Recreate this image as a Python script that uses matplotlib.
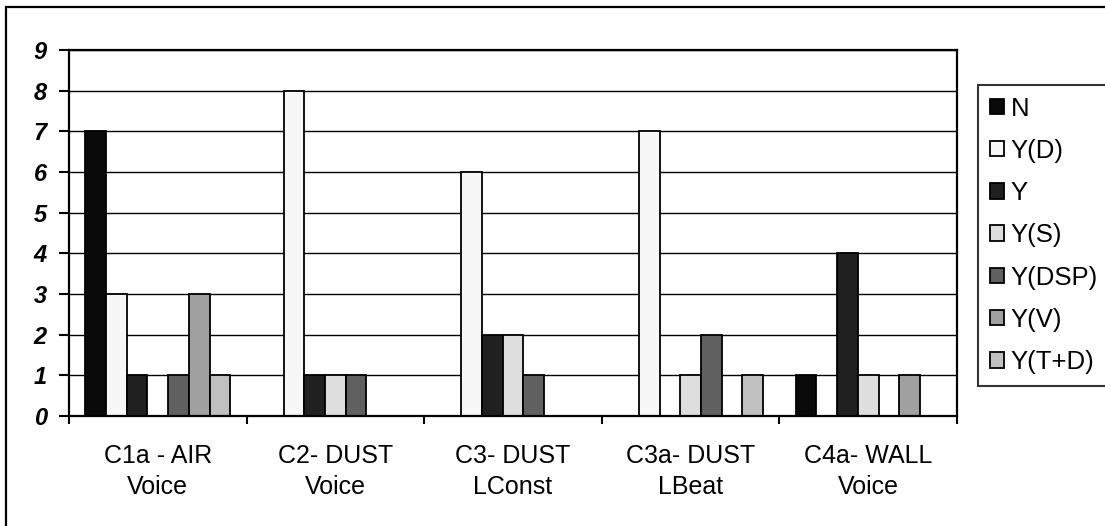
import numpy as np
import matplotlib
matplotlib.use("Agg")
import matplotlib.pyplot as plt
from matplotlib.patches import Rectangle

plt.rcParams['font.family'] = ['Liberation Sans', 'DejaVu Sans']

categories = ["C1a - AIR\nVoice", "C2- DUST\nVoice", "C3- DUST\nLConst",
              "C3a- DUST\nLBeat", "C4a- WALL\nVoice"]
series = ["N", "Y(D)", "Y", "Y(S)", "Y(DSP)", "Y(V)", "Y(T+D)"]
v_N = [7, 0, 0, 0, 1]
v_YD = [3, 8, 6, 7, 0]
v_Y = [1, 1, 2, 0, 4]
v_YS = [0, 1, 2, 1, 1]
v_YDSP = [1, 1, 1, 2, 0]
v_YV = [3, 0, 0, 0, 1]
v_YTD = [1, 0, 0, 1, 0]
values = [v_N, v_YD, v_Y, v_YS, v_YDSP, v_YV, v_YTD]
colors = ['#0a0a0a', '#f7f7f7', '#202020', '#dedede', '#606060', '#a0a0a0', '#c0c0c0']

W, H = 1105, 526
fig = plt.figure(figsize=(W / 100, H / 100), dpi=100)
ax = fig.add_axes([69 / W, 1 - 416 / H, (957 - 69) / W, (416 - 50) / H])

x = np.arange(len(categories))
bw = 0.1166
n = len(series)
for i, (name, vals, c) in enumerate(zip(series, values, colors)):
    off = (i - (n - 1) / 2) * bw
    ax.bar(x + off, vals, width=bw, color=c, edgecolor='black', linewidth=1.3,
           label=name, zorder=3)

ax.set_xlim(-0.5, len(categories) - 0.5)
ax.set_ylim(0, 9)
ax.set_yticks(range(10))
ax.yaxis.grid(True, color='black', linewidth=1.0, zorder=0)
ax.set_axisbelow(True)
for s in ax.spines.values():
    s.set_linewidth(1.6)
    s.set_zorder(4)

ax.tick_params(axis='y', direction='out', length=7, width=1.5, pad=9)
for lab in ax.get_yticklabels():
    lab.set_fontweight('bold')
    lab.set_fontstyle('italic')
    lab.set_fontsize(17)

ax.set_xticks(np.arange(len(categories) + 1) - 0.5)
ax.set_xticklabels([])
ax.tick_params(axis='x', which='major', direction='out', length=6, width=1.5)
ax.set_xticks(x, minor=True)
ax.set_xticklabels(categories, minor=True, fontsize=18, linespacing=1.38)
ax.tick_params(axis='x', which='minor', length=0, pad=20)

leg = fig.legend(loc='upper left', bbox_to_anchor=(978 / W, 1 - 85 / H),
                 fontsize=18.5, frameon=True, fancybox=False, edgecolor='black',
                 borderaxespad=0, borderpad=0.45, labelspacing=0.71,
                 handlelength=0.55, handleheight=0.55, handletextpad=0.28)
leg.get_frame().set_linewidth(1.5)

fig.patches.append(Rectangle((6 / W, -0.05), 1.1, 1 - 7 / H + 0.05,
                             transform=fig.transFigure, fill=False,
                             edgecolor='black', linewidth=1.6))

fig.savefig('out.png', dpi=100)
